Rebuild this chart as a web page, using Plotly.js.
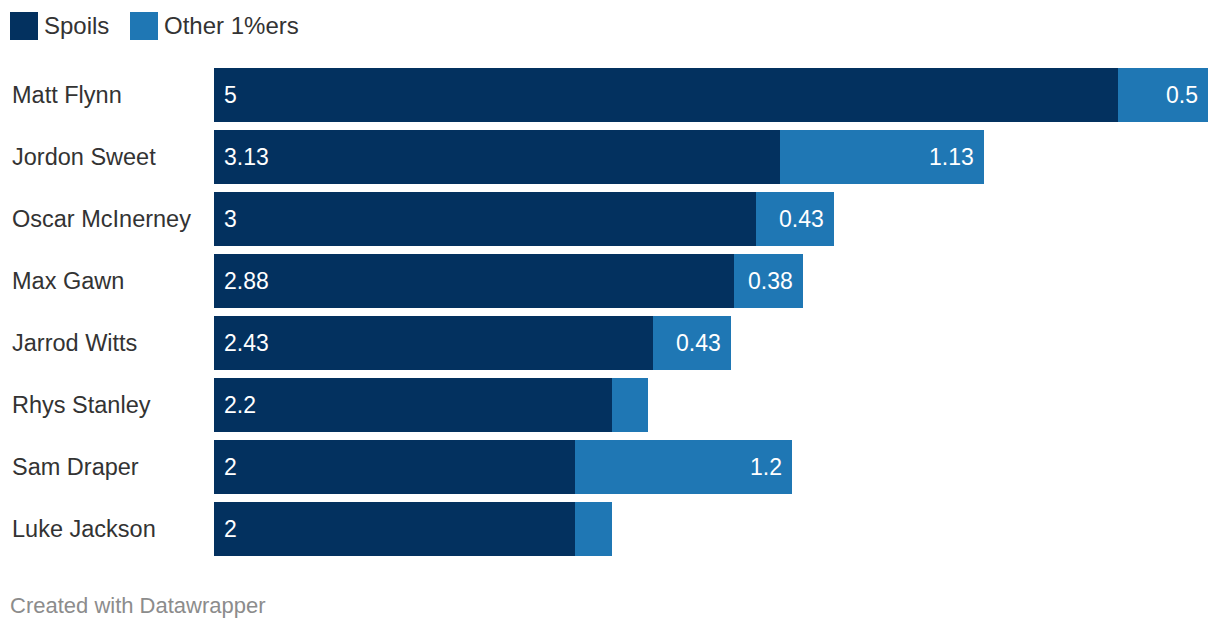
<!DOCTYPE html>
<html>
<head>
<meta charset="utf-8">
<script src="https://cdn.plot.ly/plotly-3.0.1.min.js"></script>
<style>html,body{margin:0;padding:0;background:#fff;}#chart{width:1220px;height:630px;}</style>
</head>
<body>
<div id="chart"></div>
<script>
const players = ["Matt Flynn","Jordon Sweet","Oscar McInerney","Max Gawn","Jarrod Witts","Rhys Stanley","Sam Draper","Luke Jackson"];
const spoils = [5, 3.13, 3, 2.88, 2.43, 2.2, 2, 2];
const other = [0.5, 1.13, 0.43, 0.38, 0.43, 0.2, 1.2, 0.2];
const seriesNames = ["Spoils", "Other 1%ers"];
const colors = ["#03315f", "#1f77b4"];
const FONT = "Liberation Sans, Arial, Helvetica, sans-serif";

const traces = [
  {type:"bar", orientation:"h", name:seriesNames[0], y:players, x:spoils, marker:{color:colors[0]}, hoverinfo:"x+y"},
  {type:"bar", orientation:"h", name:seriesNames[1], y:players, x:other, marker:{color:colors[1]}, hoverinfo:"x+y"}
];

const annotations = [];
players.forEach((p,i)=>{
  annotations.push({xref:"paper", yref:"y", x:0, y:p, xshift:-204, xanchor:"left", yanchor:"middle", text:p, showarrow:false, font:{family:FONT, size:23.5, color:"#333"}});
  annotations.push({xref:"x", yref:"y", x:0, y:p, xshift:8, xanchor:"left", yanchor:"middle", text:String(spoils[i]), showarrow:false, font:{family:FONT, size:23, color:"#fff"}});
  if (other[i] >= 0.3) {
    annotations.push({xref:"x", yref:"y", x:spoils[i]+other[i], y:p, xshift:-8, xanchor:"right", yanchor:"middle", text:String(other[i]), showarrow:false, font:{family:FONT, size:23, color:"#fff"}});
  }
});
// legend (plot area: left 214, width 994, top 64, bottom 560 -> height 496)
const legendX = [10, 130];
const shapes = [];
seriesNames.forEach((n,i)=>{
  shapes.push({type:"rect", xref:"paper", yref:"paper", x0:(legendX[i]-214)/994, x1:(legendX[i]+28-214)/994, y0:(560-40)/496, y1:(560-12)/496, fillcolor:colors[i], line:{width:0}});
  annotations.push({xref:"paper", yref:"paper", x:(legendX[i]+32-214)/994, y:(560-25)/496, xanchor:"left", yanchor:"middle", text:n, showarrow:false, font:{family:FONT, size:24, color:"#333"}});
});
annotations.push({xref:"paper", yref:"paper", x:(8-214)/994, y:(560-605)/496, xanchor:"left", yanchor:"middle", text:"Created with Datawrapper", showarrow:false, font:{family:FONT, size:22, color:"#8c8c8c"}});

const layout = {
  width:1220, height:630,
  margin:{l:214, r:12, t:64, b:70, pad:0},
  barmode:"stack", bargap:0.129,
  showlegend:false,
  paper_bgcolor:"#fff", plot_bgcolor:"#fff",
  xaxis:{range:[0,5.5], showgrid:false, zeroline:false, showticklabels:false, ticks:"", fixedrange:true},
  yaxis:{type:"category", autorange:"reversed", showticklabels:false, showgrid:false, zeroline:false, ticks:"", fixedrange:true},
  annotations:annotations, shapes:shapes,
  font:{family:FONT}
};
Plotly.newPlot("chart", traces, layout, {displayModeBar:false, staticPlot:true});
</script>
</body>
</html>
